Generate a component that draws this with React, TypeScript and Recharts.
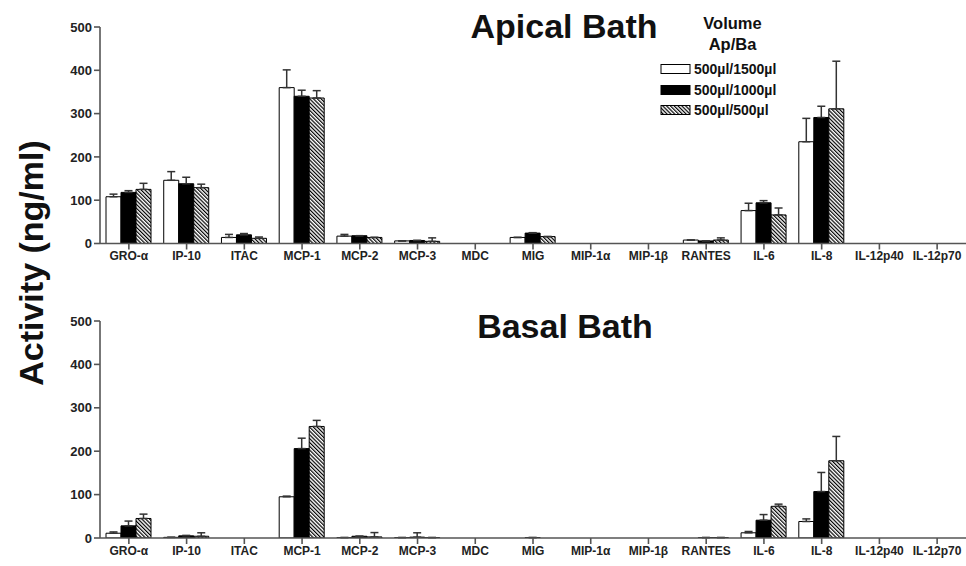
import React from 'react';
import { BarChart, Bar, XAxis, YAxis, ErrorBar, Legend } from 'recharts';

const categories = ['GRO-α', 'IP-10', 'ITAC', 'MCP-1', 'MCP-2', 'MCP-3', 'MDC', 'MIG', 'MIP-1α', 'MIP-1β', 'RANTES', 'IL-6', 'IL-8', 'IL-12p40', 'IL-12p70'];
const seriesNames = ['500µl/1500µl', '500µl/1000µl', '500µl/500µl'];
const yTicks = [0, 100, 200, 300, 400, 500];

// Apical bath
const apical1500 = [108, 146, 14, 360, 17, 6, 0, 14, 0, 0, 8, 76, 235, 0, 0];
const apical1500Err = [6, 20, 7, 41, 4, 0, 0, 0, 0, 0, 0, 17, 54, 0, 0];
const apical1000 = [118, 138, 20, 340, 18, 7, 0, 24, 0, 0, 6, 94, 291, 0, 0];
const apical1000Err = [4, 15, 3, 14, 0, 0, 0, 1, 0, 0, 0, 5, 26, 0, 0];
const apical500 = [125, 129, 12, 336, 14, 5, 0, 16, 0, 0, 8, 66, 311, 0, 0];
const apical500Err = [14, 8, 3, 17, 0, 8, 0, 0, 0, 0, 5, 16, 110, 0, 0];

// Basal bath
const basal1500 = [11, 1.5, 0, 95, 1, 1, 0, 0, 0, 0, 0, 12, 38, 0, 0];
const basal1500Err = [3, 0, 0, 1.5, 0, 0, 0, 0, 0, 0, 0, 3, 6, 0, 0];
const basal1000 = [28, 5, 0, 206, 4, 2, 0, 1, 0, 0, 1, 41, 107, 0, 0];
const basal1000Err = [11, 1, 0, 24, 0, 10, 0, 0, 0, 0, 0, 13, 44, 0, 0];
const basal500 = [45, 4, 0, 257, 2.5, 1, 0, 0, 0, 0, 1, 73, 178, 0, 0];
const basal500Err = [10, 8, 0, 14, 10, 0, 0, 0, 0, 0, 0, 5, 56, 0, 0];

const build = (a: number[], ae: number[], b: number[], be: number[], c: number[], ce: number[]) =>
  categories.map((name, i) => ({
    name,
    s1: a[i], e1: [0, ae[i]],
    s2: b[i], e2: [0, be[i]],
    s3: c[i], e3: [0, ce[i]],
  }));

const apicalData = build(apical1500, apical1500Err, apical1000, apical1000Err, apical500, apical500Err);
const basalData = build(basal1500, basal1500Err, basal1000, basal1000Err, basal500, basal500Err);

const FONT = '"Liberation Sans", Arial, Helvetica, sans-serif';
const AXIS = '#555';
const fills = ['#ffffff', '#000000', 'url(#hatch)'];

const LegendContent = () => (
  <div style={{ fontFamily: FONT, fontWeight: 'bold', color: '#111' }}>
    <div style={{ fontSize: 16.5, textAlign: 'center', width: 145, lineHeight: '21px' }}>Volume</div>
    <div style={{ fontSize: 16.5, textAlign: 'center', width: 145, lineHeight: '21px', marginBottom: 4 }}>Ap/Ba</div>
    {seriesNames.map((n, i) => (
      <div key={n} style={{ display: 'flex', alignItems: 'center', height: 20.5 }}>
        <svg width={32} height={12} style={{ marginRight: 2 }}>
          <rect x={1} y={1.5} width={29} height={9} fill={fills[i]} stroke="#000" strokeWidth={1} />
        </svg>
        <span style={{ fontSize: 14 }}>{n}</span>
      </div>
    ))}
  </div>
);

const Panel = ({ data, height, xAxisHeight, showLegend }: { data: any[]; height: number; xAxisHeight: number; showLegend: boolean }) => (
  <BarChart
    width={966}
    height={height}
    data={data}
    margin={{ top: 27, right: 0, left: 0, bottom: 0 }}
    barGap={0}
    barSize={15}
  >
    <XAxis
      dataKey="name"
      interval={0}
      height={xAxisHeight}
      stroke={AXIS}
      strokeWidth={1.6}
      tickSize={6}
      tick={{ fill: '#222', fontSize: 12, fontWeight: 'bold', fontFamily: FONT }}
      padding={{ left: 0, right: 0 }}
    />
    <YAxis
      domain={[0, 500]}
      ticks={yTicks}
      width={100}
      stroke={AXIS}
      strokeWidth={1.6}
      tickSize={6}
      tick={{ fill: '#222', fontSize: 13, fontWeight: 'bold', fontFamily: FONT }}
      allowDataOverflow
    />
    {showLegend && (
      <Legend
        layout="horizontal"
        verticalAlign="middle"
        align="center"
        content={<LegendContent />}
        wrapperStyle={{ position: 'absolute', left: 660, top: 13, width: 160, height: 110 }}
      />
    )}
    {(['s1', 's2', 's3'] as const).map((k, i) => (
      <Bar key={k} dataKey={k} name={seriesNames[i]} fill={fills[i]} stroke="#000" strokeWidth={1} isAnimationActive={false}>
        <ErrorBar dataKey={`e${i + 1}`} width={4} stroke="#333" strokeWidth={1.5} direction="y" />
      </Bar>
    ))}
  </BarChart>
);

export default function App() {
  return (
    <div style={{ position: 'absolute', left: 0, top: 0, width: 966, height: 566, background: '#fff', overflow: 'hidden' }}>
      <svg width={0} height={0} style={{ position: 'absolute' }}>
        <defs>
          <pattern id="hatch" patternUnits="userSpaceOnUse" width={2.7} height={2.7} patternTransform="rotate(-45)">
            <rect x={0} y={0} width={2.7} height={2.7} fill="#fff" />
            <rect x={0} y={0} width={1.2} height={2.7} fill="#000" />
          </pattern>
        </defs>
      </svg>
      <div style={{ position: 'absolute', left: 0, top: 0 }}>
        <Panel data={apicalData} height={283.5} xAxisHeight={40} showLegend={true} />
      </div>
      <div style={{ position: 'absolute', left: 0, top: 293.5 }}>
        <Panel data={basalData} height={272.5} xAxisHeight={28.5} showLegend={false} />
      </div>
      <svg width={966} height={566} style={{ position: 'absolute', left: 0, top: 0, pointerEvents: 'none' }}>
        <text x={564} y={38} textAnchor="middle" fontFamily={FONT} fontWeight="bold" fontSize={34} fill="#111">Apical Bath</text>
        <text x={565} y={338} textAnchor="middle" fontFamily={FONT} fontWeight="bold" fontSize={34} fill="#111">Basal Bath</text>
        <text x={43} y={263} transform="rotate(-90 43 263)" textAnchor="middle" fontFamily={FONT} fontWeight="bold" fontSize={34} fill="#111">Activity (ng/ml)</text>
      </svg>
    </div>
  );
}
